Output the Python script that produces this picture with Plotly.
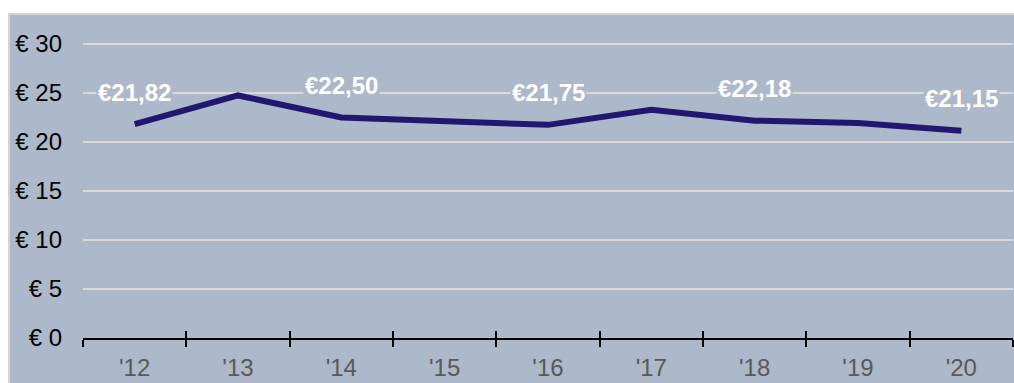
import plotly.graph_objects as go

# Average price per year
years = ["'12", "'13", "'14", "'15", "'16", "'17", "'18", "'19", "'20"]
prices = [21.82, 24.75, 22.50, 22.20, 21.75, 23.30, 22.18, 21.95, 21.15]
labelled_years = ["'12", "'14", "'16", "'18", "'20"]

y_ticks = [0, 5, 10, 15, 20, 25, 30]
y_tick_text = ["€ 0", "€ 5", "€ 10", "€ 15", "€ 20", "€ 25", "€ 30"]

BG = "#adb8ca"
GRID = "#d9d9d9"
LINE = "#22176f"
FONT = "Liberation Sans, Arial, sans-serif"

W, H = 1014, 383
ML, MR, MT, MB = 83, 1, 15, 45
plot_w = W - ML - MR
plot_h = H - MT - MB

fig = go.Figure()
fig.add_trace(go.Scatter(
    x=years, y=prices, mode="lines",
    line=dict(color=LINE, width=6),
    hoverinfo="skip", showlegend=False,
))

def euro(v):
    return "€" + f"{v:.2f}".replace(".", ",")

for yr, v in zip(years, prices):
    if yr in labelled_years:
        fig.add_annotation(
            x=yr, y=v, xref="x", yref="y", text="<b>" + euro(v) + "</b>",
            showarrow=False, yshift=32, bgcolor=BG, borderpad=1,
            font=dict(family=FONT, size=24, color="white"),
        )

# Panel background extending behind the axis labels, with a thin frame
fig.add_shape(
    type="rect", xref="paper", yref="paper", layer="below",
    x0=-(ML - 9) / plot_w, x1=1.05, y0=-(MB + 10) / plot_h, y1=1 + 1 / plot_h,
    fillcolor=BG, line=dict(color="#d4d4d4", width=2),
)

fig.update_layout(
    width=W, height=H,
    margin=dict(l=ML, r=MR, t=MT, b=MB, pad=0),
    paper_bgcolor="white", plot_bgcolor=BG,
    font=dict(family=FONT, size=24, color="black"),
    xaxis=dict(
        type="category", range=[-0.5, 8.5],
        tickson="boundaries", ticks="outside", ticklen=7, tickwidth=2, tickcolor="black",
        showline=True, linecolor="black", linewidth=2,
        showgrid=False, zeroline=False,
        tickfont=dict(family=FONT, size=24, color="#595959"),
        ticklabelstandoff=7,
    ),
    xaxis2=dict(
        type="category", range=[-0.5, 8.5], overlaying="x", side="bottom",
        tickson="boundaries", ticks="inside", ticklen=7, tickwidth=2, tickcolor="black",
        showticklabels=False, showgrid=False, zeroline=False, showline=False,
        matches="x",
    ),
    yaxis=dict(
        range=[0, plot_h / 9.8], tickvals=y_ticks, ticktext=y_tick_text,
        showgrid=True, gridcolor=GRID, gridwidth=2, zeroline=False,
        ticks="", ticklabelstandoff=20,
        tickfont=dict(family=FONT, size=24, color="black"),
    ),
)

# Invisible trace to activate the overlaid tick axis
fig.add_trace(go.Scatter(x=years, y=[None] * len(years), xaxis="x2",
                         showlegend=False, hoverinfo="skip"))

fig.write_html("out.html")
